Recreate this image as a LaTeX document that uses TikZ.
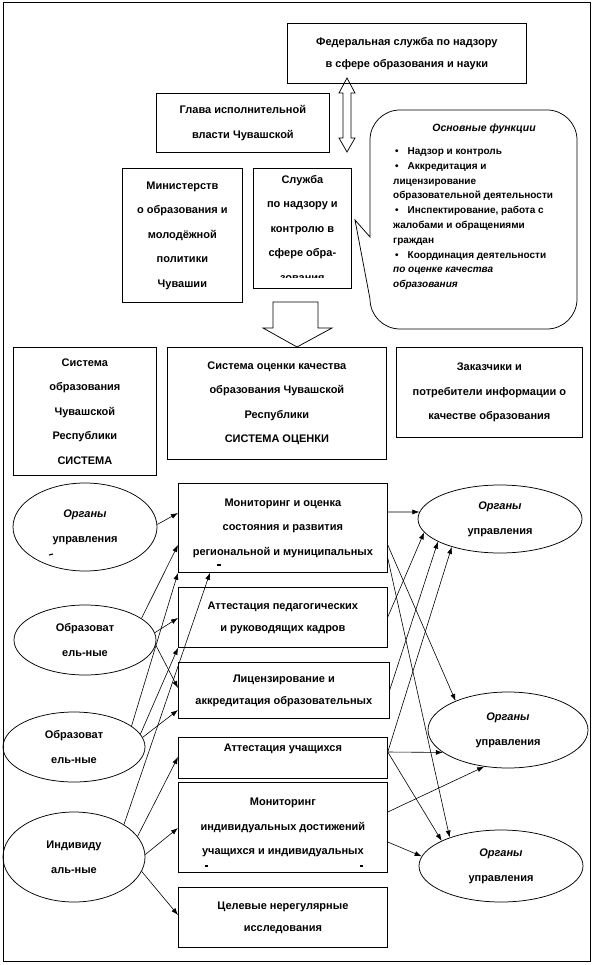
\documentclass[tikz,border=0pt]{standalone}
\usepackage{fontspec}
\setmainfont{Liberation Sans}
\usetikzlibrary{arrows.meta, positioning, shapes.geometric}

\tikzset{
  box/.style={draw, line width=0.75pt, anchor=north west, inner sep=0pt, align=center,
    font=\bfseries\fontsize{11}{24.5}\selectfont},
  tight/.style={font=\bfseries\fontsize{11}{22}\selectfont},
  oval/.style={draw, ellipse, line width=0.75pt, inner sep=0pt, align=center,
    font=\bfseries\fontsize{11}{25}\selectfont},
  link/.style={-{Latex[length=7pt,width=5pt]}, line width=0.6pt},
  bit/.style={line width=1.2pt},
}

\begin{document}
\begin{tikzpicture}[x=1pt,y=-1pt]
\useasboundingbox (0,0) rectangle (594,965);
\draw[line width=1pt] (3,3) rectangle (590,961);

% top part
\node[box, tight, minimum width=239pt, minimum height=60pt] (fed) at (287,23)
  {Федеральная служба по надзору\\в сфере  образования и науки};
\node[box, minimum width=173pt, minimum height=59pt] (glava) at (156,93)
  {Глава исполнительной\\власти Чувашской};
\node[box, minimum width=120pt, minimum height=134pt] (minis) at (122,168)
  {Министерств\\о образования и\\молодёжной\\политики\\Чувашии};
\node[box, minimum width=98pt, minimum height=120pt] (sluzh) at (253,168) {};
\begin{scope}
\clip (sluzh.north west) rectangle ([yshift=11pt]sluzh.south east);
\node[align=center, inner sep=0pt, font=\bfseries\fontsize{11}{24.5}\selectfont] (sluzhtext)
  at (sluzh.center) {Служба\\по надзору и\\контролю в\\сфере обра-\\зования};
\end{scope}

% double arrow
\draw[line width=0.75pt] (347,78) -- (355,93) -- (351,93) -- (351,138) -- (355,138) -- (347,152)
  -- (339,138) -- (343,138) -- (343,93) -- (339,93) -- cycle;

% callout
\draw[line width=0.75pt] (370,237) -- (370,140) arc[start angle=180, end angle=270, radius=30]
  -- (547,110) arc[start angle=270, end angle=360, radius=30]
  -- (577,299) arc[start angle=0, end angle=90, radius=30]
  -- (400,329) arc[start angle=90, end angle=180, radius=30]
  -- (355,220) -- cycle;
\node[anchor=base, inner sep=0pt, font=\bfseries\itshape\fontsize{10.5}{12}\selectfont]
  (functitle) at (484,132) {Основные  функции};
\node[anchor=north west, inner sep=0pt, align=left, font=\bfseries\fontsize{10}{14.8}\selectfont]
  (funclist) at (393,147.5) {%
  \hspace*{2pt}•\hspace{9pt}Надзор и контроль\\
  \hspace*{2pt}•\hspace{9pt}Аккредитация и\\
  лицензирование\\
  образовательной деятельности\\
  \hspace*{2pt}•\hspace{9pt}Инспектирование, работа с\\
  жалобами и обращениями\\
  граждан\\
  \hspace*{2pt}•\hspace{9pt}Координация деятельности\\
  \textit{по оценке качества}\\
  \textit{образования}};

% down arrow
\draw[line width=0.75pt] (273,302) -- (318,302) -- (318,328) -- (332,328) -- (297,347)
  -- (263,328) -- (273,328) -- cycle;

% middle row
\node[box, minimum width=143pt, minimum height=128pt] (sysobr) at (13,347)
  {Система\\образования\\Чувашской\\Республики\\СИСТЕМА};
\node[box, minimum width=219pt, minimum height=112pt] (sysocen) at (167,347)
  {Система оценки  качества\\образования Чувашской\\Республики\\СИСТЕМА  ОЦЕНКИ};
\node[box, minimum width=186pt, minimum height=90pt] (zakaz) at (396,347)
  {Заказчики и\\потребители  информации о\\качестве образования};

% procedures
\node[box, minimum width=209pt, minimum height=89pt] (mon) at (178,483)
  {Мониторинг и оценка\\состояния и развития\\региональной и муниципальных};
\node[box, tight, minimum width=209pt, minimum height=60pt] (attped) at (178,587)
  {Аттестация  педагогических\\и руководящих  кадров};
\node[box, tight, minimum width=211pt, minimum height=56pt] (lic) at (178,662)
  {Лицензирование  и\\аккредитация образовательных};
\node[box, minimum width=209pt, minimum height=41pt, text depth=20pt] (attstud) at (178,737)
  {Аттестация  учащихся};
\node[box, minimum width=209pt, minimum height=90pt] (indmon) at (178,782)
  {Мониторинг\\индивидуальных  достижений\\учащихся и индивидуальных};
\node[box, tight, minimum width=209pt, minimum height=60pt] (tsel) at (178,887)
  {Целевые  нерегулярные\\исследования};

% ovals
\node[oval, minimum width=144pt, minimum height=88pt] (orgL) at (85,527) {\textit{Органы}\\управления};
\node[oval, minimum width=142pt, minimum height=70pt] (eduA) at (85,640) {Образоват\\ель-ные};
\node[oval, minimum width=142pt, minimum height=70pt] (eduB) at (74,747) {Образоват\\ель-ные};
\node[oval, minimum width=142pt, minimum height=90pt] (indiv) at (74,857) {Индивиду\\аль-ные};
\node[oval, minimum width=164pt, minimum height=68pt] (orgR1) at (500,519) {\textit{Органы}\\управления};
\node[oval, minimum width=160pt, minimum height=76pt] (orgR2) at (508,730) {\textit{Органы}\\управления};
\node[oval, minimum width=164pt, minimum height=72pt] (orgR3) at (501,866) {\textit{Органы}\\управления};

% cut-off bits of text
\draw[bit] (49,555) -- (53,554);
\draw[bit] (217,565) -- (221,565);
\draw[bit] (205,866) -- (208,866);
\draw[bit] (360,866) -- (363,866);

% inputs
\draw[link] (orgL.2) -- ([yshift=-30pt]mon.north west);
\draw[link] (eduA.21) -- ([yshift=-62pt]mon.north west);
\draw[link] (eduA.6) -- ([yshift=-31pt]attped.north west);
\draw[link] (eduA.-4) -- ([yshift=-26pt]lic.north west);
\draw[link] (eduB.20) -- (mon.south west);
\draw[link] (eduB.11) -- (attped.south west);
\draw[link] (eduB.8) -- ([yshift=-48pt]lic.north west);
\draw[link] (indiv.33) -- ([xshift=32pt]mon.south west);
\draw[link] (indiv.18) -- ([yshift=-20pt]attstud.north west);
\draw[link] (indiv.2) -- ([yshift=-46pt]indmon.north west);
\draw[link] (indiv.-12) -- ([yshift=-28pt]tsel.north west);

% outputs
\draw[link] ([yshift=-29pt]mon.north east) -- (orgR1.175);
\draw[link] ([yshift=-62pt]mon.north east) -- (orgR2.151);
\draw[link] ([yshift=-75pt]mon.north east) -- (orgR3.151);
\draw[link] ([yshift=-30pt]attped.north east) -- (orgR1.190);
\draw[link] ([yshift=-28pt]lic.north east) -- (orgR1.200);
\draw[link] ([yshift=-15pt]attstud.north east) -- (orgR1.210);
\draw[link] ([yshift=-15pt]attstud.north east) -- (orgR2.199);
\draw[link] ([yshift=-15pt]attstud.north east) -- (orgR3.157);
\draw[link] ([yshift=-30pt]indmon.north east) -- (orgR2.237);
\draw[link] ([yshift=-60pt]indmon.north east) -- (orgR3.173);
\end{tikzpicture}
\end{document}
